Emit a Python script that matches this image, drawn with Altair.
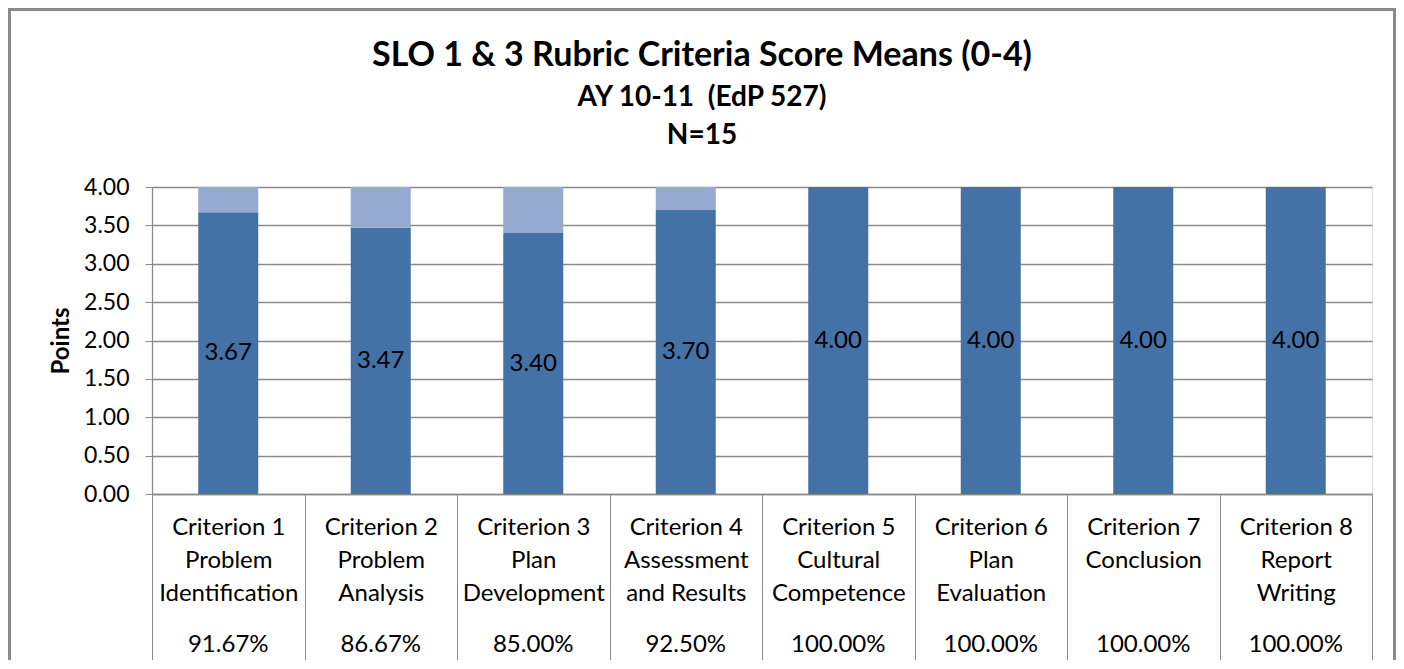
import altair as alt
import pandas as pd

# ---- data ----
categories = [
    "Criterion 1|Problem|Identification",
    "Criterion 2|Problem|Analysis",
    "Criterion 3|Plan|Development",
    "Criterion 4|Assessment|and Results",
    "Criterion 5|Cultural|Competence",
    "Criterion 6|Plan|Evaluation",
    "Criterion 7|Conclusion",
    "Criterion 8|Report|Writing",
]
means = [3.67, 3.47, 3.40, 3.70, 4.00, 4.00, 4.00, 4.00]
percents = ["91.67%", "86.67%", "85.00%", "92.50%", "100.00%", "100.00%", "100.00%", "100.00%"]
max_score = 4.0
y_ticks = [0, 0.5, 1.0, 1.5, 2.0, 2.5, 3.0, 3.5, 4.0]

DARK = "#4472A7"
LIGHT = "#95A9D1"
GRAY = "#8A8A8A"
FONT = "Lato"

rows = []
for c, m in zip(categories, means):
    rows.append({"category": c, "segment": "Mean", "value": m, "ord": 0})
    rows.append({"category": c, "segment": "Remainder", "value": round(max_score - m, 2), "ord": 1})
df_long = pd.DataFrame(rows)
df_means = pd.DataFrame({"category": categories, "mean": means})

cat_list = "[" + ",".join("'" + c + "'" for c in categories) + "]"
pct_list = "[" + ",".join("'" + p + "'" for p in percents) + "]"
pct_expr = f"{pct_list}[indexof({cat_list}, datum.value)]"

x_scale = alt.Scale(domain=categories, paddingInner=0, paddingOuter=0)
y_scale = alt.Scale(domain=[0, max_score], nice=False)

main_x_axis = alt.Axis(
    title=None, orient="bottom", labelExpr="split(datum.label, '|')", labelAngle=0,
    labelFont=FONT, labelFontSize=24, labelLineHeight=33, labelColor="black",
    labelBaseline="top", tickBand="extent", tickSize=166, tickColor=GRAY, tickWidth=1,
    domainColor=GRAY, domainWidth=1.3, labelPadding=-145, grid=False, labelOverlap=False,
    labelLimit=300,
)
pct_x_axis = alt.Axis(
    title=None, orient="bottom", labelExpr=pct_expr, labelAngle=0,
    labelFont=FONT, labelFontSize=24, labelColor="black", labelBaseline="top",
    ticks=False, domain=False, labelPadding=138, grid=False, labelOverlap=False,
)
y_axis = alt.Axis(
    values=y_ticks, format=".2f", title="Points", titleFont=FONT, titleFontSize=24,
    titleFontWeight="bold", titleColor="black", titlePadding=10,
    labelFont=FONT, labelFontSize=23, labelColor="black", labelPadding=16,
    tickSize=7, tickColor=GRAY, domainColor=GRAY, domainWidth=1.3,
    gridColor=GRAY, gridWidth=1.3,
)

frame = alt.Chart(pd.DataFrame({"f": [0]})).mark_rect(
    fillOpacity=0, stroke=GRAY, strokeWidth=3
).encode(
    x=alt.value(-142.5), x2=alt.value(1242.5), y=alt.value(-177.5), y2=alt.value(520)
)

bars = alt.Chart(df_long).mark_bar(size=60).encode(
    x=alt.X("category:N", sort=categories, scale=x_scale, axis=main_x_axis),
    y=alt.Y("value:Q", stack="zero", scale=y_scale, axis=y_axis),
    color=alt.Color("segment:N", scale=alt.Scale(domain=["Mean", "Remainder"], range=[DARK, LIGHT]), legend=None),
    order=alt.Order("ord:Q"),
)

labels = alt.Chart(df_means).transform_calculate(
    mid="datum.mean / 2"
).mark_text(font=FONT, fontSize=24, color="black", baseline="middle").encode(
    x=alt.X("category:N", sort=categories, scale=x_scale, axis=pct_x_axis),
    y=alt.Y("mid:Q", scale=y_scale, axis=y_axis),
    text=alt.Text("mean:Q", format=".2f"),
)

chart = alt.layer(frame, bars, labels).resolve_axis(x="independent").properties(
    width=1220,
    height=307,
    autosize=alt.AutoSizeParams(type="none"),
    padding={"left": 144, "top": 179, "right": 24, "bottom": 166},
    title=alt.TitleParams(
        text="SLO 1 & 3 Rubric Criteria Score Means (0-4)",
        subtitle=["AY 10-11\u00a0 (EdP 527)", "N=15"],
        font=FONT, fontSize=34, fontWeight="bold", color="black",
        subtitleFont=FONT, subtitleFontSize=28, subtitleFontWeight="bold",
        subtitleColor="black", subtitleLineHeight=38, subtitlePadding=11,
        anchor="middle", frame="group", dx=-60, offset=-142,
    ),
).configure_view(strokeWidth=0).configure(background="white")

chart.save("out.html", embed_options={"renderer": "svg", "actions": False})
